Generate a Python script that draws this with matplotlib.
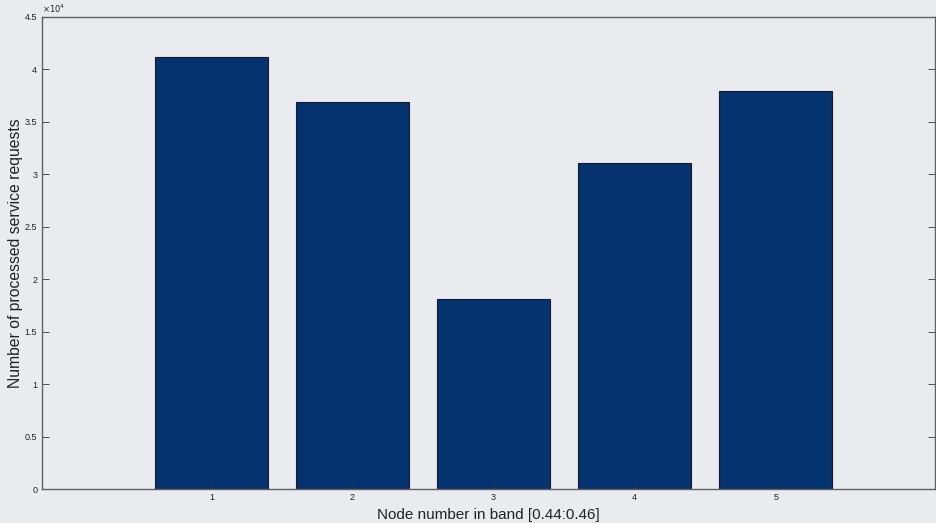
import numpy as np
import matplotlib.pyplot as plt
from matplotlib.ticker import FuncFormatter

plt.rcParams['font.family'] = ['Liberation Sans', 'DejaVu Sans']

# node numbers and processed request counts
nodes = [1, 2, 3, 4, 5]
requests = [41200, 36900, 18100, 31100, 37950]

bg = '#e9ebef'
bar_color = '#04336f'

fig = plt.figure(figsize=(9.37, 5.23), dpi=100, facecolor=bg)
ax = fig.add_axes([0.045, 0.065, 0.953, 0.903], facecolor=bg)

ax.bar(nodes, requests, width=0.8, color=bar_color, edgecolor='#1a1a2a', linewidth=0.8)

ax.set_xlim(-0.2, 6.13)
ax.set_ylim(0, 45000)
ax.set_xticks(nodes)
ax.set_yticks(np.arange(0, 45001, 5000))
ax.yaxis.set_major_formatter(FuncFormatter(lambda v, p: '{:g}'.format(v / 1e4)))

ax.tick_params(direction='in', length=5, width=0.6, labelsize=6.5, colors='#333333',
               labelcolor='#222222', right=True, top=False)
ax.tick_params(axis='x', pad=3)
for s in ax.spines.values():
    s.set_color('#606060')
    s.set_linewidth(1.0)

ax.text(0.0, 1.003, r'$\times 10^{4}$', transform=ax.transAxes, fontsize=6,
        ha='left', va='bottom', color='#222222')

ax.set_xlabel('Node number in band [0.44:0.46]', fontsize=11, color='#222222', labelpad=4)
ax.set_ylabel('Number of processed service requests', fontsize=11.3, color='#222222', labelpad=1)

fig.savefig('out.png', dpi=100, facecolor=bg)
